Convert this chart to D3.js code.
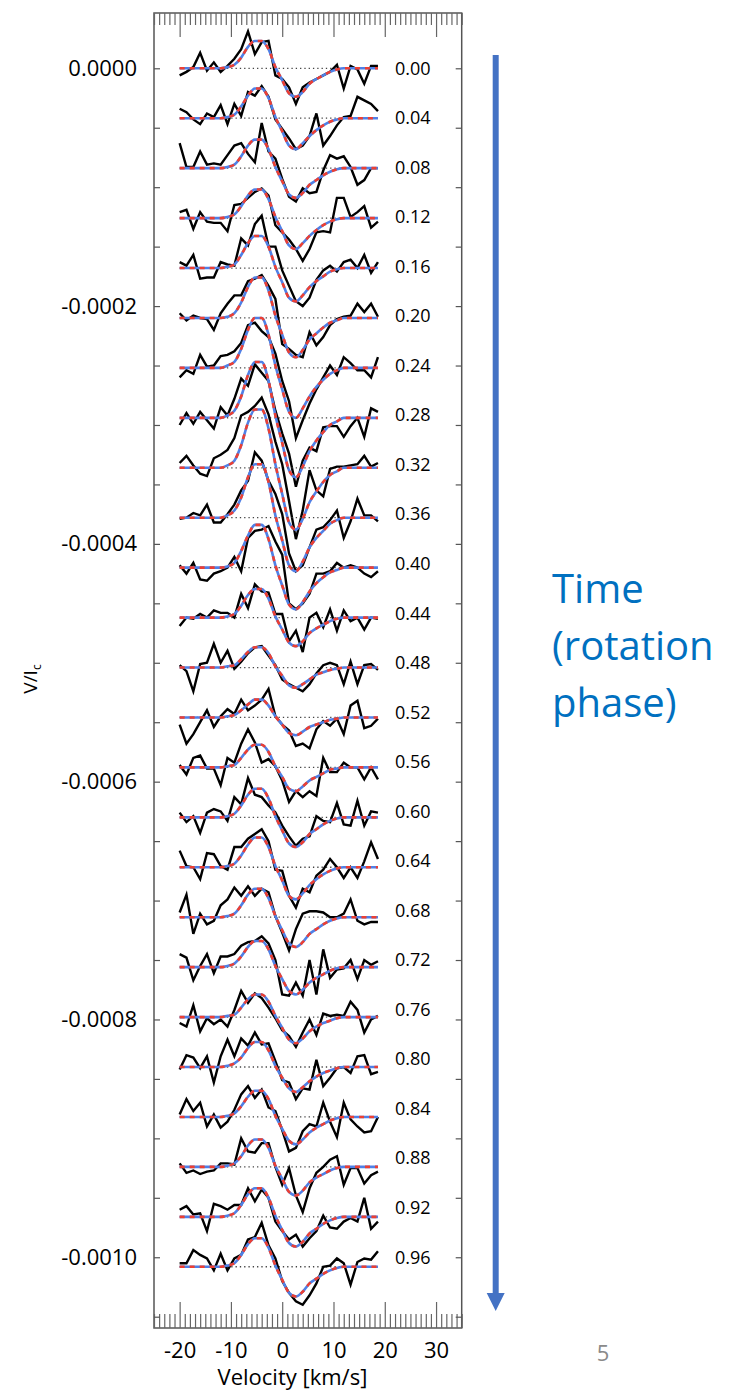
<!DOCTYPE html>
<html>
<head>
<meta charset="utf-8">
<script src="https://cdn.jsdelivr.net/npm/d3@7"></script>
<style>
  body { margin: 0; background: #fff; }
  svg text { font-family: "Open Sans", sans-serif; }
</style>
</head>
<body>
<svg id="chart" width="750" height="1392"></svg>
<script>
// velocity grid of the profiles (km/s)
let velocity = [-20.0, -18.67, -17.33, -16.0, -14.67, -13.33, -12.0, -10.67, -9.33, -8.0,
    -6.67, -5.33, -4.0, -2.67, -1.33, 0.0, 1.33, 2.67, 4.0, 5.33,
    6.67, 8.0, 9.33, 10.67, 12.0, 13.33, 14.67, 16.0, 17.33, 18.67];

let phases = ["0.00", "0.04", "0.08", "0.12", "0.16", "0.20", "0.24", "0.28", "0.32", "0.36",
    "0.40", "0.44", "0.48", "0.52", "0.56", "0.60", "0.64", "0.68", "0.72", "0.76",
    "0.80", "0.84", "0.88", "0.92", "0.96"];

// observed Stokes V / Ic, units of 1e-6
let observed = [
    [-6, -3, 1, 13, -2, 5, -3, 2, 8, 16, 31, 12, 22, 23, -6, -9, -16, -30, -16, -12, -9, -6, -3, 3, -17, 2, -1, -13, 2, 2],
    [8, 5, -1, -5, 4, 1, 11, -5, 12, 2, 22, 19, 27, 18, -1, -9, -17, -26, -23, -15, 4, -23, -15, -6, 1, 2, 18, 15, 12, 6],
    [21, 1, 1, 14, 3, 4, 3, 11, 19, 21, 12, 5, 38, 14, 8, -9, -24, -28, -17, -21, -20, -2, 11, 8, 10, 1, -14, -10, 0, 0],
    [5, 7, -9, 5, -3, -4, -4, -11, 11, 12, 17, 22, 25, 19, -6, -12, -18, -26, -36, -26, -12, -11, -12, 17, 17, 1, 5, 10, -8, -3],
    [5, 2, 11, -9, -8, -8, 5, 3, 2, 25, 19, 37, 44, 18, 18, -2, -15, -28, -32, -25, -10, -2, 2, -3, 5, 7, 0, 11, -4, 5],
    [4, -2, 2, 0, -1, -10, 4, 12, 19, 19, 31, 33, 36, 27, 16, -22, -26, -31, -33, -12, -23, -16, -6, -1, 1, 2, 12, 5, 12, 1],
    [-8, -2, -5, 11, 1, 2, 10, 11, 14, 21, 36, 38, 31, 26, 12, -11, -28, -59, -44, -30, -18, -8, 2, -6, 9, 4, -2, -2, -8, 9],
    [-6, 4, -5, 5, -2, -9, 9, 2, 16, 33, 27, 45, 38, 31, 6, -13, -30, -58, -36, -25, -28, -8, -7, -7, -16, -7, 0, -16, 8, 5],
    [4, 10, 2, -5, -7, 8, 11, 15, 25, 44, 47, 52, 59, 45, 22, 3, -28, -60, -36, -2, -19, -24, -1, 1, 1, 2, 3, 10, 1, 4],
    [-1, 0, 4, 2, 11, -4, -4, 3, 11, 23, 31, 55, 48, 31, 20, 3, -30, -45, -40, -25, -10, -8, -2, 6, -17, -3, 16, 2, 2, -3],
    [2, -5, 4, -10, -11, -5, -3, 0, 9, -3, 25, 31, 32, 35, 22, 11, -30, -35, -30, -22, -5, -5, -3, 4, 0, 2, 0, -5, -8, -3],
    [-7, 0, -1, 3, 0, 6, 4, 4, 0, 20, 8, 28, 22, 21, 3, 3, -20, -11, -29, 0, 4, -8, 7, -11, 6, -3, 0, -10, 0, -1],
    [2, -3, -20, 3, 4, 20, 4, 14, -1, 5, 12, 17, 18, 10, 2, -10, -14, -17, -20, -14, -5, 2, 4, 2, -14, 5, -14, 2, 3, -2],
    [-6, -22, -14, -4, 6, -8, 1, 7, 3, 15, 6, 10, 15, 24, 1, -6, -11, -24, -22, -26, -10, -3, -7, -1, -14, 10, 14, -9, -7, -1],
    [2, -6, 8, 10, -1, -1, -15, 8, 4, 20, 32, 21, 4, 7, 1, -11, -29, -20, -25, -20, -24, 8, -4, -4, 4, 0, 0, -10, 0, -10],
    [4, -4, 1, -13, 4, 7, 5, -3, 17, 11, 33, 19, 17, 10, 4, -7, -16, -24, -18, -16, 1, -3, -4, 12, -6, -7, 14, -7, 5, 4],
    [14, 1, 0, -10, 12, 11, 1, -2, 17, 17, 24, 28, 32, 22, -2, -3, -24, -34, -18, -21, -7, -2, 7, 0, -9, 0, -9, 5, 21, 7],
    [4, 19, -14, 3, -6, -3, 10, 15, 25, 18, 26, 18, 24, 21, 1, -13, -28, -10, 3, 5, 5, 4, 0, 0, 3, 15, -3, -6, -4, -4],
    [11, 8, -11, 1, 11, -5, 9, 9, 11, 18, 21, 22, 26, 20, 6, -23, -24, -13, -24, 6, -23, 15, -9, -2, -1, 6, -10, 6, 2, 5],
    [-5, -8, 10, -12, -1, -6, -2, -8, 6, 22, 12, 20, 16, 8, -1, -11, -16, -25, -13, -2, -15, 3, 1, 2, 1, 13, 6, -13, -2, 1],
    [-2, 10, 8, -1, 9, -13, 9, 23, 9, 24, 18, 29, 19, 20, 5, -11, -13, -27, -18, -19, 6, -16, -9, -1, 0, -5, 9, 10, -6, -4],
    [2, 15, 5, 12, -8, 2, -9, -4, 6, 19, 26, 16, 23, 8, 5, -11, -29, -26, -12, -6, -8, 12, -4, -17, 12, -2, -8, -13, -12, 0],
    [3, -5, -3, -6, -4, -3, 3, 3, 2, 24, 13, 12, 20, 20, 0, -15, -1, -24, -38, -18, -5, 0, 6, 9, -15, -1, -1, -14, -7, -4],
    [6, 9, 2, 3, -12, 11, 9, 6, 10, 10, 24, 13, 23, 16, -4, -12, -19, -15, -25, -18, -12, 1, -9, -10, -4, -1, -4, 16, -10, -4],
    [3, 3, 14, 10, 7, -3, 11, -3, 7, 10, 23, 25, 37, 18, 7, -12, -22, -29, -32, -24, -14, 0, 1, 7, 3, -15, 4, 7, 6, 13]
];

// model fit, units of 1e-6
let model = [
    [0, 0, 0, 0, 0, 0, 0, 1, 3, 9, 18, 23, 23, 16, 1, -10, -21, -24, -20, -13, -9, -6, -3, -1, 0, 0, 0, 0, 0, 0],
    [0, 0, 0, 0, 0, 0, 0, 1, 3, 10, 19, 25, 25, 17, 1, -11, -23, -26, -21, -15, -10, -6, -3, -1, 0, 0, 0, 0, 0, 0],
    [0, 0, 0, 0, 0, 0, 0, 1, 3, 10, 19, 24, 24, 16, 1, -11, -22, -25, -21, -14, -10, -6, -3, -1, 0, 0, 0, 0, 0, 0],
    [0, 0, 0, 0, 0, 0, 0, 1, 3, 10, 19, 24, 24, 16, 1, -11, -23, -26, -21, -15, -10, -6, -3, -1, 0, 0, 0, 0, 0, 0],
    [0, 0, 0, 0, 0, 0, 0, 1, 3, 11, 21, 27, 27, 18, 1, -12, -25, -28, -23, -16, -11, -7, -3, -1, 0, 0, 0, 0, 0, 0],
    [0, 0, 0, 0, 0, 0, 0, 1, 4, 13, 26, 34, 34, 23, 2, -14, -29, -33, -27, -18, -13, -8, -4, -2, 0, 0, 0, 0, 0, 0],
    [0, 0, 0, 0, 0, 0, 0, 2, 5, 16, 32, 42, 42, 28, 2, -18, -37, -42, -34, -24, -16, -10, -5, -2, 0, 0, 0, 0, 0, 0],
    [0, 0, 0, 0, 0, 0, 0, 2, 6, 18, 36, 47, 47, 31, 2, -21, -44, -50, -41, -28, -19, -12, -6, -3, 0, 0, 0, 0, 0, 0],
    [0, 0, 0, 0, 0, 0, 0, 2, 6, 19, 38, 49, 49, 33, 3, -22, -46, -52, -43, -29, -20, -12, -6, -3, 0, 0, 0, 0, 0, 0],
    [0, 0, 0, 0, 0, 0, 0, 2, 6, 17, 34, 45, 45, 30, 2, -19, -40, -45, -37, -25, -17, -11, -5, -2, 0, 0, 0, 0, 0, 0],
    [0, 0, 0, 0, 0, 0, 0, 1, 4, 14, 27, 36, 36, 24, 2, -15, -31, -35, -29, -20, -13, -8, -4, -2, 0, 0, 0, 0, 0, 0],
    [0, 0, 0, 0, 0, 0, 0, 1, 3, 10, 19, 24, 24, 16, 1, -10, -21, -24, -20, -13, -9, -6, -3, -1, 0, 0, 0, 0, 0, 0],
    [0, 0, 0, 0, 0, 0, 0, 1, 2, 7, 13, 17, 17, 12, 1, -7, -15, -17, -14, -10, -6, -4, -2, -1, 0, 0, 0, 0, 0, 0],
    [0, 0, 0, 0, 0, 0, 0, 1, 2, 6, 11, 15, 15, 10, 1, -6, -13, -15, -12, -8, -6, -4, -2, -1, 0, 0, 0, 0, 0, 0],
    [0, 0, 0, 0, 0, 0, 0, 1, 2, 8, 15, 19, 19, 13, 1, -8, -18, -20, -16, -11, -8, -5, -2, -1, 0, 0, 0, 0, 0, 0],
    [0, 0, 0, 0, 0, 0, 0, 1, 3, 10, 19, 24, 24, 16, 1, -11, -22, -25, -21, -14, -10, -6, -3, -1, 0, 0, 0, 0, 0, 0],
    [0, 0, 0, 0, 0, 0, 0, 1, 3, 10, 19, 25, 25, 17, 1, -11, -24, -27, -22, -15, -10, -6, -3, -1, 0, 0, 0, 0, 0, 0],
    [0, 0, 0, 0, 0, 0, 0, 1, 3, 10, 19, 24, 24, 16, 1, -11, -22, -25, -21, -14, -10, -6, -3, -1, 0, 0, 0, 0, 0, 0],
    [0, 0, 0, 0, 0, 0, 0, 1, 3, 9, 17, 22, 22, 15, 1, -10, -20, -23, -19, -13, -9, -6, -3, -1, 0, 0, 0, 0, 0, 0],
    [0, 0, 0, 0, 0, 0, 0, 1, 2, 8, 15, 19, 19, 13, 1, -9, -19, -22, -18, -12, -8, -5, -3, -1, 0, 0, 0, 0, 0, 0],
    [0, 0, 0, 0, 0, 0, 0, 1, 3, 8, 16, 21, 21, 14, 1, -9, -18, -21, -17, -12, -8, -5, -3, -1, 0, 0, 0, 0, 0, 0],
    [0, 0, 0, 0, 0, 0, 0, 1, 3, 9, 17, 22, 22, 15, 1, -10, -20, -23, -19, -13, -9, -6, -3, -1, 0, 0, 0, 0, 0, 0],
    [0, 0, 0, 0, 0, 0, 0, 1, 3, 9, 18, 23, 23, 16, 1, -10, -21, -24, -20, -13, -9, -6, -3, -1, 0, 0, 0, 0, 0, 0],
    [0, 0, 0, 0, 0, 0, 0, 1, 3, 10, 19, 24, 24, 16, 1, -11, -22, -25, -21, -14, -10, -6, -3, -1, 0, 0, 0, 0, 0, 0],
    [0, 0, 0, 0, 0, 0, 0, 1, 3, 10, 19, 24, 24, 16, 1, -11, -22, -25, -21, -14, -10, -6, -3, -1, 0, 0, 0, 0, 0, 0]
];

let yTickLabels = [0, -0.0002, -0.0004, -0.0006, -0.0008, -0.0010];
let xTickLabels = [-20, -10, 0, 10, 20, 30];

let unit = 1e-6,
    shift = 4.2e-5,          // vertical offset between successive profiles
    labelShift = 0.001 / 24; // phase labels are spaced a little tighter

let frame = {left: 154, right: 461.7, top: 13, bottom: 1328};

let svg = d3.select("#chart");

let x = d3.scaleLinear()
    .domain([-25, 35])
    .range([frame.left, frame.right]);

let y = d3.scaleLinear()
    .domain([4.65e-5, -1.0595e-3])
    .range([frame.top, frame.bottom]);

let hyphen = function(s) { return s.replace("\u2212", "-"); };

// frame
svg.append("rect")
    .attr("x", frame.left)
    .attr("y", frame.top)
    .attr("width", frame.right - frame.left)
    .attr("height", frame.bottom - frame.top)
    .attr("fill", "none")
    .attr("stroke", "#555")
    .attr("stroke-width", 1.5);

let minorX = d3.range(-25, 36, 1).filter(function(d) { return d % 10 !== 0; });

function tickGroup(axis, ty, values, size) {
    let g = svg.append("g")
        .attr("transform", "translate(0," + ty + ")")
        .call(axis.scale(x).tickValues(values).tickSize(size).tickFormat(""));
    g.select(".domain").remove();
    g.selectAll(".tick line").attr("stroke", "#666").attr("stroke-width", 1.2);
    return g;
}

// ticks along the top and bottom, pointing inwards
tickGroup(d3.axisBottom(), frame.top, minorX, 12);
tickGroup(d3.axisBottom(), frame.top, xTickLabels, 24);
tickGroup(d3.axisTop(), frame.bottom, minorX, 14);
tickGroup(d3.axisTop(), frame.bottom, xTickLabels, 26);

// bottom tick labels
let xLab = svg.append("g")
    .attr("transform", "translate(0," + frame.bottom + ")")
    .call(d3.axisBottom(x).tickValues(xTickLabels).tickSize(0).tickPadding(14)
        .tickFormat(function(d) { return hyphen(d3.format("d")(d)); }));
xLab.select(".domain").remove();
xLab.selectAll("text")
    .attr("font-family", "Open Sans")
    .attr("font-size", 22)
    .attr("fill", "#000");

svg.append("text")
    .attr("x", x(2))
    .attr("y", 1385)
    .attr("text-anchor", "middle")
    .attr("font-size", 22)
    .attr("fill", "#000")
    .text("Velocity [km/s]");

// y ticks on both sides, pointing inwards
let yTicks = d3.range(0, -0.00106, -0.00005);

let yLeft = svg.append("g")
    .attr("transform", "translate(" + frame.left + ",0)")
    .call(d3.axisRight(y).tickValues(yTicks).tickSize(6).tickFormat(""));
yLeft.select(".domain").remove();
yLeft.selectAll(".tick line").attr("stroke", "#555").attr("stroke-width", 1.2);

let yRight = svg.append("g")
    .attr("transform", "translate(" + frame.right + ",0)")
    .call(d3.axisLeft(y).tickValues(yTicks).tickSize(6).tickFormat(""));
yRight.select(".domain").remove();
yRight.selectAll(".tick line").attr("stroke", "#555").attr("stroke-width", 1.2);

let yLab = svg.append("g")
    .attr("transform", "translate(" + frame.left + ",0)")
    .call(d3.axisLeft(y).tickValues(yTickLabels).tickSize(0).tickPadding(17)
        .tickFormat(function(d) { return hyphen(d3.format(".4f")(d)); }));
yLab.select(".domain").remove();
yLab.selectAll("text")
    .attr("font-family", "Open Sans")
    .attr("font-size", 22)
    .attr("fill", "#000");

let yTitle = svg.append("text")
    .attr("transform", "translate(37,679) rotate(-90)")
    .attr("text-anchor", "middle")
    .attr("font-size", 19)
    .attr("fill", "#000");
yTitle.append("tspan").text("V/I");
yTitle.append("tspan").attr("font-size", 12).attr("dy", 4).text("c");

// profiles
let line = d3.line()
    .x(function(d) { return x(d.v); })
    .y(function(d) { return y(d.val); });

let smooth = d3.line()
    .x(function(d) { return x(d.v); })
    .y(function(d) { return y(d.val); })
    .curve(d3.curveMonotoneX);

let rows = phases.map(function(p, i) {
    let base = -i * shift;
    return {
        phase: p,
        i: i,
        base: base,
        obs: velocity.map(function(v, k) { return {v: v, val: base + observed[i][k] * unit}; }),
        fit: velocity.map(function(v, k) { return {v: v, val: base + model[i][k] * unit}; })
    };
});

let prof = svg.append("g").selectAll("g")
    .data(rows)
    .enter().append("g");

prof.append("line")
    .attr("x1", x(velocity[0]))
    .attr("x2", x(velocity[velocity.length - 1]))
    .attr("y1", function(d) { return y(d.base); })
    .attr("y2", function(d) { return y(d.base); })
    .attr("stroke", "#444")
    .attr("stroke-width", 1.3)
    .attr("stroke-dasharray", "1.3,3");

prof.append("path")
    .attr("d", function(d) { return line(d.obs); })
    .attr("fill", "none")
    .attr("stroke", "#000")
    .attr("stroke-width", 2.4);

prof.append("path")
    .attr("d", function(d) { return smooth(d.fit); })
    .attr("fill", "none")
    .attr("stroke", "#4f80e6")
    .attr("stroke-width", 2.6);

prof.append("path")
    .attr("d", function(d) { return smooth(d.fit); })
    .attr("fill", "none")
    .attr("stroke", "#ec3f33")
    .attr("stroke-width", 2.6)
    .attr("stroke-dasharray", "5,5");

prof.append("text")
    .attr("x", x(22))
    .attr("y", function(d) { return y(-d.i * labelShift); })
    .attr("dy", "0.35em")
    .attr("font-size", 18)
    .attr("fill", "#000")
    .text(function(d) { return d.phase; });

// time arrow and annotation
svg.append("line")
    .attr("x1", 495.7).attr("x2", 495.7)
    .attr("y1", 55).attr("y2", 1296)
    .attr("stroke", "#4472c4")
    .attr("stroke-width", 6);

svg.append("path")
    .attr("d", "M486.7,1293 L504.7,1293 L495.7,1311 Z")
    .attr("fill", "#4472c4");

let note = svg.append("text")
    .attr("x", 552)
    .attr("font-size", 40)
    .attr("fill", "#0070c0");
["Time", "(rotation", "phase)"].forEach(function(t, k) {
    note.append("tspan").attr("x", 552).attr("y", 603 + k * 57).text(t);
});

svg.append("text")
    .attr("x", 603)
    .attr("y", 1361)
    .attr("text-anchor", "middle")
    .attr("font-size", 22)
    .attr("fill", "#8a8a8a")
    .text("5");
</script>
</body>
</html>
